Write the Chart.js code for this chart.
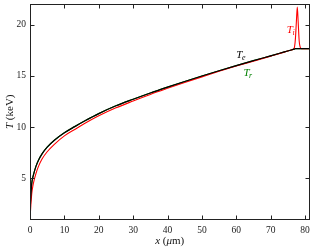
<!DOCTYPE html>
<html>
<head>
<meta charset="utf-8">
<script src="https://cdn.jsdelivr.net/npm/chart.js@4.4.0/dist/chart.umd.min.js"></script>
<style>
  html, body { margin: 0; padding: 0; background: #fff; }
  #wrap { width: 314px; height: 250px; }
</style>
</head>
<body>
<div id="wrap"><canvas id="myChart" width="314" height="250"></canvas></div>
<script>
// x in micrometres, temperatures in keV
const xValues  = [0, 0.1, 0.25, 0.5, 0.75, 1, 1.75, 2.5, 3.5, 5, 7, 10, 13, 16, 20, 25, 30, 35, 40, 45, 50, 55, 60, 65, 70, 74, 76, 76.8, 77.2, 77.5, 77.75, 78, 78.3, 78.6, 78.9, 80, 81.3];
const teValues = [1.0, 2.3, 3.3, 4.5, 5.0, 5.35, 6.2, 6.8, 7.4, 8.05, 8.7, 9.45, 10.05, 10.62, 11.32, 12.08, 12.72, 13.33, 13.9, 14.45, 14.98, 15.5, 16.0, 16.48, 16.95, 17.33, 17.52, 17.6, 17.65, 17.65, 17.65, 17.65, 17.65, 17.65, 17.65, 17.65, 17.65];
const trValues = [1.0, 2.3, 3.3, 4.5, 5.0, 5.35, 6.2, 6.8, 7.4, 8.05, 8.7, 9.45, 10.05, 10.62, 11.32, 12.08, 12.72, 13.33, 13.9, 14.45, 14.98, 15.5, 16.0, 16.48, 16.95, 17.33, 17.52, 17.6, 17.65, 17.65, 17.65, 17.65, 17.65, 17.65, 17.65, 17.65, 17.65];
const tiValues = [1.0, 1.6, 2.4, 3.5, 4.1, 4.55, 5.5, 6.2, 6.9, 7.6, 8.3, 9.15, 9.77, 10.37, 11.1, 11.88, 12.55, 13.19, 13.78, 14.35, 14.9, 15.44, 15.95, 16.43, 16.92, 17.31, 17.52, 17.65, 18.6, 20.4, 21.7, 20.3, 18.4, 17.8, 17.65, 17.65, 17.65];

const xTicks = [0, 10, 20, 30, 40, 50, 60, 70, 80];
const yTicks = [5, 10, 15, 20];

// curve labels: [subscript, colour, x, T]
const curveLabels = [
    ['e', '#000000', 60.0, 16.74],
    ['r', '#008000', 62.1, 15.03],
    ['i', '#ff0000', 74.7, 19.15]
];

const SERIF = '"Liberation Serif", "DejaVu Serif", serif';

function pts(ys){
    return xValues.map((x, i) => ({x: x, y: ys[i]}));
}

function drawRuns(ctx, runs, x, y){
    let w = 0;
    runs.forEach(r => { ctx.font = r[1]; w += ctx.measureText(r[0]).width; });
    let cx = x - w / 2;
    runs.forEach(r => {
        ctx.font = r[1];
        ctx.fillText(r[0], cx, y);
        cx += ctx.measureText(r[0]).width;
    });
}

const frame = {
    id: 'frame',
    afterDatasetsDraw(chart){
        const {ctx, chartArea: a, scales: {x, y}} = chart;
        const l = Math.round(a.left) + 0.5, r = Math.round(a.right) - 0.5;
        const t = Math.round(a.top) + 0.5, b = Math.round(a.bottom) - 0.5;
        ctx.save();
        ctx.strokeStyle = '#222';
        ctx.lineWidth = 1;
        ctx.strokeRect(l, t, r - l, b - t);
        ctx.beginPath();
        xTicks.forEach(v => {
            const px = Math.round(x.getPixelForValue(v)) + 0.5;
            ctx.moveTo(px, b); ctx.lineTo(px, b - 4);
            ctx.moveTo(px, t); ctx.lineTo(px, t + 4);
        });
        yTicks.forEach(v => {
            const py = Math.round(y.getPixelForValue(v)) + 0.5;
            ctx.moveTo(l, py); ctx.lineTo(l + 4, py);
            ctx.moveTo(r, py); ctx.lineTo(r - 4, py);
        });
        ctx.stroke();

        ctx.fillStyle = '#111';
        ctx.textBaseline = 'alphabetic';
        // x axis title
        drawRuns(ctx, [
            ['x', 'italic 11px ' + SERIF],
            [' (', '11px ' + SERIF],
            ['\u03bc', 'italic 11px ' + SERIF],
            ['m)', '11px ' + SERIF]
        ], (a.left + a.right) / 2, 244);
        // y axis title
        ctx.save();
        ctx.translate(13, (a.top + a.bottom) / 2);
        ctx.rotate(-Math.PI / 2);
        drawRuns(ctx, [
            ['T', 'italic 11px ' + SERIF],
            [' (keV)', '11px ' + SERIF]
        ], 0, 0);
        ctx.restore();

        // curve labels
        curveLabels.forEach(c => {
            const px = x.getPixelForValue(c[2]);
            const py = y.getPixelForValue(c[3]);
            ctx.fillStyle = c[1];
            ctx.font = 'italic 11px ' + SERIF;
            ctx.fillText('T', px, py);
            const w = ctx.measureText('T').width;
            ctx.font = 'italic 8px ' + SERIF;
            ctx.fillText(c[0], px + w - 0.5, py + 2);
        });
        ctx.restore();
    }
};

const ctx = document.querySelector('#myChart').getContext('2d');
const myChart = new Chart(ctx, {
    type: 'line',
    data: {
        datasets: [
            { label: 'Te', data: pts(teValues), borderColor: '#000000', borderWidth: 1.2, order: 0 },
            { label: 'Ti', data: pts(tiValues), borderColor: '#ff0000', borderWidth: 1.1, order: 1 },
            { label: 'Tr', data: pts(trValues), borderColor: '#008000', borderWidth: 1.2, order: 2 }
        ]
    },
    options: {
        responsive: false,
        animation: false,
        events: [],
        elements: {
            point: { radius: 0 },
            line: { cubicInterpolationMode: 'monotone', fill: false }
        },
        layout: { padding: { top: 4, right: 4.5, left: 0, bottom: 0 } },
        plugins: { legend: { display: false }, tooltip: { enabled: false } },
        scales: {
            x: {
                type: 'linear',
                min: 0,
                max: 81.3,
                afterBuildTicks: s => { s.ticks = xTicks.map(v => ({value: v})); },
                afterFit: s => { s.height = 30.5; s.paddingLeft = 0; s.paddingRight = 0; },
                grid: { display: false, drawTicks: false },
                border: { display: false },
                ticks: {
                    padding: 5,
                    color: '#222',
                    maxRotation: 0,
                    font: { family: SERIF, size: 9.5 }
                }
            },
            y: {
                type: 'linear',
                min: 1,
                max: 22,
                afterBuildTicks: s => { s.ticks = yTicks.map(v => ({value: v})); },
                afterFit: s => { s.width = 30; s.paddingTop = 0; s.paddingBottom = 0; },
                grid: { display: false, drawTicks: false },
                border: { display: false },
                ticks: {
                    padding: 4,
                    color: '#222',
                    font: { family: SERIF, size: 9.5 }
                }
            }
        }
    },
    plugins: [frame]
});
</script>
</body>
</html>
